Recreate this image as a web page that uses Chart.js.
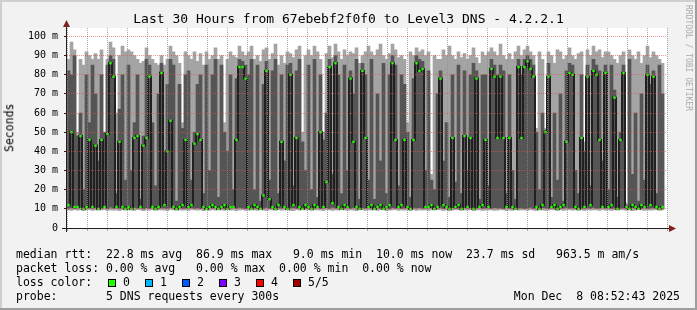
<!DOCTYPE html>
<html>
<head>
<meta charset="utf-8">
<title>Level3 DNS - 4.2.2.1</title>
<script src="https://cdn.jsdelivr.net/npm/chart.js@4.4.1/dist/chart.umd.min.js"></script>
<style>
  html, body { margin: 0; padding: 0; background: #f2f2f2; }
  #wrap { position: relative; width: 697px; height: 310px; overflow: hidden;
          font-family: "DejaVu Sans Mono", monospace; color: #000; }
  #wrap canvas { position: absolute; left: 0; top: 0; }
  .txt { position: absolute; white-space: pre; line-height: 1; }
  .legend { font-size: 11.5px; }
  .box { position: absolute; width: 6px; height: 6px; border: 1px solid #000; }
</style>
</head>
<body>
<div id="wrap">
  <canvas id="chart" width="697" height="310"></canvas>
  <div class="txt" id="title" style="left:0; width:697px; text-align:center; top:12px; font-size:13px;"></div>
  <div class="txt" id="ylabel" style="left:-40px; width:100px; text-align:center; top:122px; font-size:11.5px; transform:rotate(-90deg);"></div>
  <div class="txt" id="mark" style="left:684px; top:5px; font-size:8px; color:#aaa; writing-mode:vertical-rl;"></div>
  <div class="txt legend" id="l1" style="left:16px; top:248.5px;"></div>
  <div class="txt legend" id="l2" style="left:16px; top:262.5px;"></div>
  <div class="txt legend" id="l3" style="left:16px; top:276.5px;"></div>
  <div class="txt legend" id="l4" style="left:16px; top:290.5px;"></div>
  <div class="txt legend" id="stamp" style="right:17px; top:290.5px;"></div>
</div>
<script>
// time axis (hours since Sun 00:00), one column = 9 minutes
const START_HOUR = 2.95;
const END_HOUR = 32.95;
const STEP_HOURS = 0.15;

const xTickHours = [6, 12, 18, 24, 30];
const xTickLabels = ["Sun 06:00", "Sun 12:00", "Sun 18:00", "Mon 00:00", "Mon 06:00"];

// median rtt per column (ms)
const medianRtt = [
  12,50,11,11,48,10,11,46,11,43,10,46,11,49,86,79,11,45,11,10,
  11,10,47,48,11,43,47,79,11,10,11,81,12,40,56,11,10,11,12,46,
  11,12,44,49,46,11,10,11,12,11,10,11,12,10,11,11,46,84,84,78,
  11,10,12,11,10,17,82,15,11,10,12,45,11,10,80,12,47,11,10,12,
  11,10,12,11,50,11,24,84,13,86,11,10,12,11,78,45,11,10,82,47,
  11,12,10,11,12,10,11,12,86,46,11,12,46,11,10,46,86,82,83,11,
  11,12,10,11,78,12,11,10,47,11,12,10,48,11,47,10,78,11,12,46,
  11,83,79,47,79,47,11,47,11,10,84,47,84,87,83,79,11,10,12,50,
  79,11,12,10,11,12,45,81,80,11,10,47,11,79,12,82,80,46,11,81,
  11,12,68,10,46,81,11,10,12,11,10,12,11,80,12,79,11,10,11,null
];
// 2nd and 4th of the 5 sorted pings (dark smoke)
const ping2 = [
  10.2,10.6,10.1,10.4,10.8,9.9,10.3,10.5,10.2,10.7,9.8,10.4,10.6,10.1,10.9,10.3,10.5,10.2,10.4,10.0,
  10.4,10.1,10.7,10.3,10.5,10.0,10.6,10.2,10.8,10.3,10.1,10.5,10.4,10.2,10.7,10.3,10.0,10.6,10.2,10.4,
  10.3,10.7,10.2,10.5,10.1,10.4,10.0,10.6,10.3,10.8,10.2,10.4,10.1,10.5,10.3,10.6,10.2,10.7,10.4,10.1,
  10.5,10.2,10.4,10.1,10.6,10.3,10.8,10.2,10.4,10.0,10.5,10.3,10.7,10.1,10.4,10.6,10.2,10.5,10.3,10.4,
  10.2,10.5,10.3,10.7,10.1,10.4,10.6,10.2,10.8,10.3,10.5,10.1,10.4,10.6,10.2,10.7,10.3,10.0,10.5,10.4,
  10.6,10.3,10.1,10.5,10.2,10.7,10.4,10.0,10.6,10.3,10.5,10.2,10.4,10.8,10.1,10.5,10.3,10.6,10.2,10.4,
  10.3,10.6,10.2,10.4,10.7,10.1,10.5,10.3,10.6,10.2,10.4,10.0,10.7,10.3,10.5,10.1,10.4,10.6,10.2,10.5,
  10.4,10.2,10.6,10.3,10.5,10.1,10.7,10.4,10.2,10.6,10.3,10.5,10.1,10.4,10.8,10.2,10.5,10.3,10.6,10.4,
  10.1,10.5,10.3,10.6,10.2,10.4,10.7,10.3,10.5,10.1,10.6,10.4,10.2,10.5,10.3,10.7,10.2,10.4,10.6,10.3,
  10.5,10.2,10.4,10.6,10.3,10.5,10.1,10.4,10.7,10.2,10.5,10.3,10.6,10.1,10.4,10.5,10.3,10.6,10.2,null
];
const ping4 = [
  82,80,90,48,60,20,80,55,85,70,35,80,50,85,90,88,18,62,80,25,
  85,30,55,80,15,48,88,85,55,22,70,86,40,75,88,85,14,75,52,80,
  82,25,50,75,80,18,85,30,80,88,16,85,50,40,80,20,78,88,87,85,
  80,88,20,85,14,75,87,25,82,88,18,80,35,85,86,22,82,88,45,30,
  85,20,88,16,80,46,60,88,28,90,80,18,85,30,82,70,88,15,86,80,
  25,88,15,70,35,86,18,80,90,85,22,80,75,50,16,78,90,88,87,30,
  82,25,20,70,82,35,55,16,80,24,85,18,82,30,80,86,82,15,80,80,
  22,88,85,80,85,82,18,80,30,15,88,80,88,90,88,85,50,20,60,51,
  86,16,60,25,70,14,82,86,85,30,18,80,40,85,22,88,85,82,35,85,
  20,85,72,16,50,85,12,88,28,60,14,70,25,85,75,82,18,85,70,null
];
// fastest and slowest ping (light smoke)
const pingMin = [
  9.4,9.2,9.6,9.3,9.5,9.1,9.4,9.6,9.2,9.5,9.3,9.4,9.6,9.2,9.5,9.3,9.4,9.1,9.6,9.3,
  9.5,9.3,9.2,9.6,9.4,9.1,9.5,9.3,9.6,9.2,9.4,9.5,9.3,9.1,9.6,9.4,9.2,9.5,9.3,9.4,
  9.2,9.6,9.4,9.3,9.5,9.1,9.4,9.2,9.6,9.3,9.5,9.4,9.2,9.6,9.3,9.5,9.1,9.4,9.6,9.2,
  9.3,9.5,9.4,9.2,9.6,9.3,9.1,9.5,9.4,9.2,9.6,9.3,9.5,9.4,9.2,9.1,9.6,9.3,9.5,9.4,
  9.6,9.2,9.4,9.5,9.3,9.1,9.6,9.4,9.2,9.5,9.3,9.6,9.4,9.2,9.5,9.3,9.1,9.4,9.6,9.2,
  9.4,9.3,9.5,9.2,9.6,9.4,9.1,9.3,9.5,9.6,9.2,9.4,9.3,9.5,9.1,9.6,9.2,9.4,9.3,9.5,
  9.2,9.5,9.3,9.6,9.4,9.2,9.5,9.1,9.3,9.6,9.4,9.2,9.5,9.3,9.6,9.1,9.4,9.5,9.2,9.3,
  9.5,9.4,9.2,9.3,9.6,9.5,9.1,9.4,9.2,9.6,9.3,9.5,9.4,9.2,9.6,9.3,9.1,9.5,9.4,9.2,
  9.3,9.6,9.4,9.1,9.5,9.2,9.4,9.6,9.3,9.5,9.2,9.4,9.1,9.6,9.3,9.5,9.4,9.2,9.6,9.3,
  9.4,9.2,9.5,9.3,9.6,9.4,9.2,9.5,9.1,9.3,9.6,9.4,9.2,9.5,9.3,9.4,9.6,9.2,9.5,null
];
const pingMax = [
  88,97,93,50,88,85,92,90,88,91,88,93,50,88,97,94,60,90,95,92,
  93,92,90,88,86,87,94,90,88,86,85,90,85,88,95,92,90,86,55,92,
  90,88,92,87,91,85,92,88,90,94,88,90,55,88,92,90,89,95,92,90,
  92,95,88,90,87,93,94,88,91,96,85,90,86,92,91,89,93,95,50,90,
  93,90,95,92,88,50,91,95,89,96,92,88,93,90,92,91,94,86,90,92,
  95,92,90,93,96,90,88,91,96,93,89,90,88,55,92,90,94,92,93,90,
  92,28,90,88,88,93,90,95,90,88,92,89,91,88,90,94,89,86,92,90,
  92,94,92,90,96,90,88,91,88,92,95,90,93,95,92,90,52,92,88,52,
  92,90,86,93,92,88,90,94,90,88,91,92,45,93,90,95,92,93,89,92,
  92,90,88,86,90,92,13,93,90,88,92,86,90,95,89,92,90,88,86,null
];

const lossLabels = ["0", "1", "2", "3", "4", "5/5"];
const lossColors = ["#26ff00", "#00b8ff", "#0059ff", "#7e00ff", "#ff0000", "#a10000"];

const MINOR = "rgba(143,143,143,0.75)";
const MAJOR = "rgba(222,79,79,0.6)";

// texts
document.getElementById("title").textContent = "Last 30 Hours from 67ebebf2f0f0 to Level3 DNS - 4.2.2.1";
document.getElementById("ylabel").textContent = "Seconds";
document.getElementById("mark").textContent = "RRDTOOL / TOBI OETIKER";
document.getElementById("l1").textContent = "median rtt:  22.8 ms avg  86.9 ms max   9.0 ms min  10.0 ms now  23.7 ms sd   963.5 m am/s";
document.getElementById("l2").textContent = "packet loss: 0.00 % avg   0.00 % max  0.00 % min  0.00 % now";
document.getElementById("l3").textContent = "loss color:";
document.getElementById("l4").textContent = "probe:       5 DNS requests every 300s";
document.getElementById("stamp").textContent = "Mon Dec  8 08:52:43 2025";

const wrap = document.getElementById("wrap");
lossLabels.forEach((lab, k) => {
  const b = document.createElement("div");
  b.className = "box";
  b.style.left = (108 + 37 * k) + "px";
  b.style.top = "279px";
  b.style.background = lossColors[k];
  wrap.appendChild(b);
  const t = document.createElement("div");
  t.className = "txt legend";
  t.style.left = (123 + 37 * k) + "px";
  t.style.top = "276.5px";
  t.textContent = lab;
  wrap.appendChild(t);
});

const times = medianRtt.map((_, i) => START_HOUR + STEP_HOURS * (i + 0.5));
const floating = (lo, hi) => times.map((t, i) => ({ x: t, y: lo[i] == null ? null : [lo[i], hi[i]] }));
const medianMarks = times.map((t, i) => ({ x: t, y: medianRtt[i] == null ? null : [medianRtt[i] - 0.6, medianRtt[i] + 0.6] }));
const medianLine = times.map((t, i) => ({ x: t, y: medianRtt[i] }));

// background, frame, axes with arrows
const frame = {
  id: "frame",
  beforeDraw(chart) {
    const { ctx, chartArea: a, width, height } = chart;
    ctx.save();
    ctx.fillStyle = "#f2f2f2";
    ctx.fillRect(0, 0, width, height);
    ctx.fillStyle = "#ffffff";
    ctx.fillRect(a.left, a.top, a.right - a.left, a.bottom - a.top);
    ctx.fillStyle = "#cfcfcf";
    ctx.fillRect(0, 0, width, 2);
    ctx.fillRect(0, 0, 2, height);
    ctx.fillStyle = "#9e9e9e";
    ctx.fillRect(0, height - 2, width, 2);
    ctx.fillRect(width - 2, 0, 2, height);
    ctx.restore();
  },
  afterDraw(chart) {
    const { ctx, chartArea: a } = chart;
    const x0 = Math.round(a.left) - 0.5;
    const y0 = Math.round(a.bottom) + 0.5;
    ctx.save();
    ctx.strokeStyle = "#202020";
    ctx.lineWidth = 1;
    ctx.beginPath();
    ctx.moveTo(a.left - 5, y0); ctx.lineTo(a.right + 2, y0);
    ctx.moveTo(x0, a.bottom + 4); ctx.lineTo(x0, a.top - 1);
    ctx.stroke();
    ctx.fillStyle = "#7f1f1f";
    ctx.beginPath();
    ctx.moveTo(a.right + 2, y0 - 3.5); ctx.lineTo(a.right + 9, y0); ctx.lineTo(a.right + 2, y0 + 3.5);
    ctx.fill();
    ctx.beginPath();
    ctx.moveTo(x0 - 3.5, a.top - 1); ctx.lineTo(x0, a.top - 8); ctx.lineTo(x0 + 3.5, a.top - 1);
    ctx.fill();
    ctx.restore();
  }
};

const tickFont = { family: "DejaVu Sans Mono", size: 10 };

new Chart(document.getElementById("chart"), {
  type: "bar",
  data: {
    datasets: [
      { type: "bar", data: medianMarks, backgroundColor: lossColors[0], grouped: false, order: 0,
        barPercentage: 0.8, categoryPercentage: 1, borderWidth: 0 },
      { type: "line", data: medianLine, borderColor: "#202020", borderWidth: 2, pointRadius: 0,
        stepped: "middle", spanGaps: false, order: 1 },
      { type: "bar", data: floating(ping2, ping4), backgroundColor: "#555555", grouped: false, order: 2,
        barPercentage: 1, categoryPercentage: 1, borderWidth: 0 },
      { type: "bar", data: floating(pingMin, pingMax), backgroundColor: "#a4a4a4", grouped: false, order: 3,
        barPercentage: 1, categoryPercentage: 1, borderWidth: 0 }
    ]
  },
  options: {
    responsive: false,
    animation: false,
    devicePixelRatio: 1,
    layout: { padding: { top: 28, right: 30, bottom: 62, left: 0 } },
    plugins: { legend: { display: false }, tooltip: { enabled: false }, title: { display: false } },
    scales: {
      x: {
        type: "linear", min: START_HOUR, max: END_HOUR, offset: false,
        afterFit(s) { s.height = 20; },
        grid: { z: 1, offset: false, tickLength: 3,
                color: c => (c.tick && c.tick.value % 3 === 0 ? MAJOR : MINOR),
                tickColor: c => (c.tick && c.tick.value % 3 === 0 ? MAJOR : MINOR) },
        border: { display: false, dash: [1, 1] },
        ticks: { stepSize: 1, autoSkip: false, includeBounds: false, maxRotation: 0, padding: 2,
                 color: "#000", font: tickFont,
                 callback: v => { const k = xTickHours.indexOf(v); return k < 0 ? "" : xTickLabels[k]; } }
      },
      y: {
        min: 0, max: 104.4,
        afterFit(s) { s.width = 67; },
        grid: { z: 1, tickLength: 3,
                color: c => (c.tick.value === 0 ? "rgba(0,0,0,0)" : c.tick.value % 10 === 0 ? MAJOR : MINOR),
                tickColor: c => (c.tick.value % 10 === 0 ? "#202020" : "rgba(0,0,0,0)") },
        border: { display: false, dash: [1, 1] },
        ticks: { stepSize: 5, includeBounds: false, padding: 6, color: "#000", font: tickFont,
                 callback: v => (v % 10 !== 0 ? "" : v === 0 ? "0" : v + " m") }
      }
    }
  },
  plugins: [frame]
});
</script>
</body>
</html>
